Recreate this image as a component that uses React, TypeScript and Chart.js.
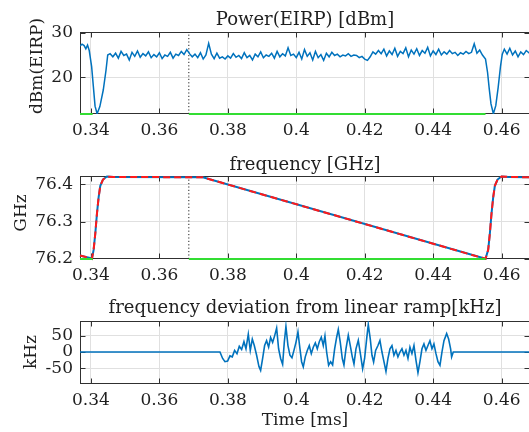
import React, { useEffect, useRef } from "react";
import { Chart, registerables } from "chart.js";

Chart.register(...registerables);

// ---------- shared axis ----------
const X_MIN = 0.3368;
const X_MAX = 0.4683;
const X_TICKS = [0.34, 0.36, 0.38, 0.4, 0.42, 0.44, 0.46];
const X_TICK_LABELS = ["0.34", "0.36", "0.38", "0.4", "0.42", "0.44", "0.46"];
const X_LABEL = "Time [ms]";
const MARKER_T = 0.3686;

// ---------- valid (green) indicator ----------
const VALID_T = [0.3368, 0.3405, 0.3406, 0.3686, 0.4553];
const VALID_ON = [1, 1, null, 1, 1];

// ---------- power (EIRP) ----------
const POWER_T = [
  0.3368, 0.3374, 0.338, 0.3385, 0.339, 0.3395, 0.3402, 0.3407, 0.3412, 0.3418,
  0.3426, 0.3436, 0.3444, 0.3449, 0.3456,
  0.3464, 0.3472, 0.348, 0.3488, 0.3496, 0.3504, 0.3512, 0.352, 0.3528, 0.3536,
  0.3544, 0.3552, 0.356, 0.3568, 0.3576, 0.3584, 0.3592, 0.36, 0.3608, 0.3616,
  0.3624, 0.3632, 0.364, 0.3648, 0.3656, 0.3664, 0.3672, 0.368, 0.3688, 0.3696,
  0.3704, 0.3712, 0.372, 0.3728, 0.3736, 0.3744, 0.3752, 0.376, 0.3768, 0.3776,
  0.3784, 0.3792, 0.38, 0.3808, 0.3816, 0.3824, 0.3832, 0.384, 0.3848, 0.3856,
  0.3864, 0.3872, 0.388, 0.3888, 0.3896, 0.3904, 0.3912, 0.392, 0.3928, 0.3936,
  0.3944, 0.3952, 0.396, 0.3968, 0.3976, 0.3984, 0.3992, 0.4, 0.4008, 0.4016,
  0.4024, 0.4032, 0.404, 0.4048, 0.4056, 0.4064, 0.4072, 0.408, 0.4088, 0.4096,
  0.4104, 0.4112, 0.412, 0.4128, 0.4136, 0.4144, 0.4152, 0.416, 0.4168, 0.4176,
  0.4184, 0.4192, 0.42, 0.4208, 0.4216, 0.4224, 0.4232, 0.424, 0.4248, 0.4256,
  0.4264, 0.4272, 0.428, 0.4288, 0.4296, 0.4304, 0.4312, 0.432, 0.4328, 0.4336,
  0.4344, 0.4352, 0.436, 0.4368, 0.4376, 0.4384, 0.4392, 0.44, 0.4408, 0.4416,
  0.4424, 0.4432, 0.444, 0.4448, 0.4456, 0.4464, 0.4472, 0.448, 0.4488, 0.4496,
  0.4504, 0.4512, 0.452, 0.4528, 0.4536, 0.4544,
  0.4553, 0.4559, 0.4564, 0.4569, 0.4576, 0.4583, 0.459, 0.4597, 0.4602, 0.4608,
  0.4616, 0.4624, 0.4632, 0.464, 0.4648, 0.4656, 0.4664, 0.4672, 0.4683,
];
const POWER_DBM = [
  27.0, 27.4, 27.1, 26.4, 27.2, 26.0, 22.4, 18.0, 13.6, 11.9,
  13.5, 17.2, 21.6, 25.0, 25.3,
  24.6, 25.4, 24.3, 25.8, 24.9, 25.2, 23.9, 25.6, 24.7, 25.9,
  24.5, 25.3, 24.8, 25.7, 24.4, 25.1, 24.6, 25.5, 24.2, 25.0,
  24.7, 25.6, 24.3, 25.2, 24.9, 25.8, 25.1, 26.2, 25.3, 24.6,
  25.2, 24.4, 25.5, 24.1, 25.0, 27.6, 25.2, 24.2, 25.4, 24.3,
  24.6, 24.1, 24.8, 24.3, 25.3, 24.5, 24.9, 24.2, 25.5, 24.4,
  24.9, 23.9, 25.2, 24.6, 25.7, 24.4, 25.0, 24.7, 25.4, 24.3,
  25.8, 24.6, 25.3, 24.8, 26.6, 24.9, 25.2, 24.4, 25.6, 24.1,
  26.2, 24.7, 25.5, 23.9, 25.8, 24.4, 25.1, 23.8, 25.4, 24.6,
  25.6, 24.9, 25.2, 24.6, 25.0, 24.8, 25.3, 24.7, 25.0, 24.9,
  24.4, 24.7, 24.1, 23.8, 24.6, 25.7, 25.2, 26.0, 25.3, 26.3,
  24.8, 25.9, 25.1, 26.5, 24.7, 25.8, 25.3, 26.6, 24.6, 26.1,
  25.2, 26.4, 24.9, 26.0, 25.4, 26.7, 24.8, 25.9, 25.1, 26.3,
  25.0, 25.7, 25.2, 26.0, 25.3, 25.6, 24.9, 25.5, 25.2, 25.8,
  25.3, 25.6, 27.5, 25.4, 26.1, 25.0,
  24.1, 21.1, 17.4, 14.1, 11.9, 13.7, 17.8, 22.6, 25.2, 26.3,
  25.2, 26.5, 25.0, 25.9, 24.6, 25.7, 25.1, 26.0, 25.3,
];
const P_Y_MIN = 11.85;
const P_Y_MAX = 30.13;
const P_Y_TICKS = [20, 30];
const P_Y_TICK_LABELS = ["20", "30"];

// ---------- frequency ----------
const FREQ_T = [
  0.3368, 0.3385, 0.34, 0.34029, 0.34078, 0.34127, 0.34175, 0.34224, 0.34273, 0.34351,
  0.34468, 0.34662, 0.3727,
  0.4553, 0.45608, 0.45657, 0.45705, 0.45754, 0.45803, 0.45881, 0.45998, 0.46192, 0.4683,
];
const FREQ_GHZ = [
  76.209, 76.205, 76.2015, 76.2, 76.224, 76.268, 76.321, 76.365, 76.396, 76.413,
  76.421, 76.42, 76.419,
  76.2, 76.224, 76.268, 76.321, 76.365, 76.396, 76.413, 76.421, 76.42, 76.419,
];
const F_Y_MIN = 76.1995;
const F_Y_MAX = 76.4225;
const F_Y_TICKS = [76.2, 76.3, 76.4];
const F_Y_TICK_LABELS = ["76.2", "76.3", "76.4"];

// ---------- deviation ----------
const DEV_T = [
  0.3368, 0.3777, 0.37848, 0.37916, 0.37994, 0.38062, 0.3813, 0.38198, 0.38267, 0.38335,
  0.38403, 0.38471, 0.3853, 0.38598, 0.38656, 0.38715, 0.38773, 0.38841, 0.38909, 0.38958,
  0.39017, 0.39075, 0.39133, 0.39192, 0.3925, 0.39309, 0.39367, 0.39426, 0.39484, 0.39543,
  0.39601, 0.3965, 0.39698, 0.39757, 0.39815, 0.39874, 0.39932, 0.39991, 0.40049, 0.40108,
  0.40156, 0.40205, 0.40263, 0.40322, 0.4038, 0.40439, 0.40497, 0.40556, 0.40614, 0.40673,
  0.40731, 0.40789, 0.40838, 0.40887, 0.40945, 0.41004, 0.41062, 0.41121, 0.41179, 0.41228,
  0.41286, 0.41345, 0.41393, 0.41452, 0.4152, 0.41578, 0.41637, 0.41686, 0.41744, 0.41812,
  0.4188, 0.41939, 0.41997, 0.42056, 0.42104, 0.42163, 0.42212, 0.4226, 0.42319, 0.42387,
  0.42445, 0.42504, 0.42562, 0.42621, 0.42679, 0.42738, 0.42796, 0.42854, 0.42913, 0.42971,
  0.4303, 0.43088, 0.43147, 0.43205, 0.43264, 0.43322, 0.4338, 0.43439, 0.43497, 0.43556,
  0.43614, 0.43673, 0.43731, 0.4379, 0.43848, 0.43906, 0.43965, 0.44023, 0.44082, 0.4414,
  0.44199, 0.44257, 0.44316, 0.44394, 0.44452, 0.4451, 0.4454, 0.44588, 0.4683,
];
const DEV_KHZ = [
  0, 0, -20, -30, -28, -12, -15, 5, -5, 18,
  8, 32, 10, 55, 5, 40, 20, -10, -45, -57,
  -20, 20, 35, 15, 45, 30, 50, 74, 10, -20,
  -38, 30, 79, 20, -10, -18, 5, 30, 62, 10,
  -30, -46, -15, 5, 20, -5, 15, 28, 10, 32,
  46, 20, 50, 0, -41, -30, -40, 10, 45, 70,
  30, -20, -40, 10, 52, 20, -15, -37, 10, 36,
  -10, -52, -20, 40, 85, 40, -10, -31, 5, 20,
  36, 0, -30, -60, -20, 10, 20, -10, 5, -15,
  0, 10, -10, 5, -20, 15, -5, 20, -25, -64,
  -30, 10, 25, 5, 20, 35, 10, 25, -5, -30,
  -41, 0, 35, 57, 40, 10, -15, 0, 0,
];
const D_Y_MIN = -99;
const D_Y_MAX = 96;
const D_Y_TICKS = [-50, 0, 50];
const D_Y_TICK_LABELS = ["-50", "0", "50"];

// ---------- style ----------
const FONT = "'DejaVu Serif', 'Liberation Serif', serif";
const TEXT_COLOR = "#1f1f1f";
const AXIS_COLOR = "#303030";
const GRID_COLOR = "#e0e0e0";
const BLUE = "#0072BD";
const RED = "#ff1a1a";
const GREEN = "#33dd33";
const CANVAS_W = 530;
const AREA_LEFT = 80;
const TICK_LEN = 5;

type PanelCfg = {
  key: string;
  top: number;
  height: number;
  areaTop: number;
  areaBottom: number;
  title: string;
  titleY: number;
  ylabel: string;
  ylabelX: number;
  ylabelY: number;
  yMin: number;
  yMax: number;
  yTicks: number[];
  yTickLabels: string[];
  xlabel?: string;
  xlabelY?: number;
  datasets: any[];
};

const pts = (t: number[], v: (number | null)[]) => t.map((x, i) => ({ x, y: v[i] }));

const markerDataset = (yMin: number, yMax: number) => ({
  data: [
    { x: MARKER_T, y: yMin },
    { x: MARKER_T, y: yMax },
  ],
  borderColor: "#222222",
  borderWidth: 1,
  borderDash: [1.2, 2.2],
  pointRadius: 0,
  order: 3,
});

const validDataset = (level: number) => ({
  data: pts(VALID_T, VALID_ON.map((v) => (v === null ? null : level))),
  borderColor: GREEN,
  borderWidth: 2.2,
  pointRadius: 0,
  spanGaps: false,
  clip: 4,
  order: 0,
});

const PANELS: PanelCfg[] = [
  {
    key: "power",
    top: 0,
    height: 145,
    areaTop: 32,
    areaBottom: 114,
    title: "Power(EIRP) [dBm]",
    titleY: 20.5,
    ylabel: "dBm(EIRP)",
    ylabelX: 37.5,
    ylabelY: 66,
    yMin: P_Y_MIN,
    yMax: P_Y_MAX,
    yTicks: P_Y_TICKS,
    yTickLabels: P_Y_TICK_LABELS,
    datasets: [
      validDataset(P_Y_MIN),
      {
        data: pts(POWER_T, POWER_DBM),
        borderColor: BLUE,
        borderWidth: 1.5,
        pointRadius: 0,
        order: 1,
      },
      markerDataset(P_Y_MIN, P_Y_MAX),
    ],
  },
  {
    key: "freq",
    top: 145,
    height: 145,
    areaTop: 31,
    areaBottom: 114,
    title: "frequency [GHz]",
    titleY: 20,
    ylabel: "GHz",
    ylabelX: 22,
    ylabelY: 68,
    yMin: F_Y_MIN,
    yMax: F_Y_MAX,
    yTicks: F_Y_TICKS,
    yTickLabels: F_Y_TICK_LABELS,
    datasets: [
      validDataset(F_Y_MIN),
      {
        data: pts(FREQ_T, FREQ_GHZ),
        borderColor: RED,
        borderWidth: 2,
        borderDash: [7, 4],
        pointRadius: 0,
        clip: 3,
        order: 1,
      },
      {
        data: pts(FREQ_T, FREQ_GHZ),
        borderColor: BLUE,
        borderWidth: 2,
        pointRadius: 0,
        clip: 3,
        order: 2,
      },
      markerDataset(F_Y_MIN, F_Y_MAX),
    ],
  },
  {
    key: "dev",
    top: 290,
    height: 142,
    areaTop: 31,
    areaBottom: 94,
    title: "frequency deviation from linear ramp[kHz]",
    titleY: 18,
    ylabel: "kHz",
    ylabelX: 31.5,
    ylabelY: 62,
    yMin: D_Y_MIN,
    yMax: D_Y_MAX,
    yTicks: D_Y_TICKS,
    yTickLabels: D_Y_TICK_LABELS,
    xlabel: X_LABEL,
    xlabelY: 131,
    datasets: [
      {
        data: pts(DEV_T, DEV_KHZ),
        borderColor: BLUE,
        borderWidth: 1.6,
        pointRadius: 0,
        order: 1,
      },
    ],
  },
];

function framePlugin(p: PanelCfg) {
  return {
    id: "frame-" + p.key,
    beforeDatasetsDraw(chart: any) {
      const { ctx, chartArea: a, scales } = chart;
      ctx.save();
      ctx.strokeStyle = AXIS_COLOR;
      ctx.lineWidth = 1;
      const l = Math.round(a.left) + 0.5;
      const r = Math.round(a.right) - 0.5;
      const t = Math.round(a.top) + 0.5;
      const b = Math.round(a.bottom) - 0.5;
      ctx.strokeRect(l, t, r - l, b - t);
      ctx.beginPath();
      for (const tk of scales.x.ticks) {
        const px = Math.round(scales.x.getPixelForValue(tk.value)) + 0.5;
        ctx.moveTo(px, b);
        ctx.lineTo(px, b - TICK_LEN);
        ctx.moveTo(px, t);
        ctx.lineTo(px, t + TICK_LEN);
      }
      for (const tk of scales.y.ticks) {
        const py = Math.round(scales.y.getPixelForValue(tk.value)) + 0.5;
        ctx.moveTo(l, py);
        ctx.lineTo(l + TICK_LEN, py);
        ctx.moveTo(r, py);
        ctx.lineTo(r - TICK_LEN, py);
      }
      ctx.stroke();
      ctx.restore();
    },
    afterDraw(chart: any) {
      const { ctx, chartArea: a } = chart;
      ctx.save();
      ctx.fillStyle = TEXT_COLOR;
      ctx.textAlign = "center";
      ctx.textBaseline = "middle";
      ctx.font = `18px ${FONT}`;
      ctx.fillText(p.title, (a.left + a.right) / 2, p.titleY);
      if (p.xlabel) {
        ctx.font = `17px ${FONT}`;
        ctx.fillText(p.xlabel, (a.left + a.right) / 2, p.xlabelY);
      }
      ctx.translate(p.ylabelX, p.ylabelY);
      ctx.rotate(-Math.PI / 2);
      ctx.font = `17px ${FONT}`;
      ctx.fillText(p.ylabel, 0, 0);
      ctx.restore();
    },
  };
}

function buildConfig(p: PanelCfg): any {
  return {
    type: "line",
    data: { datasets: p.datasets.map((d) => ({ tension: 0, fill: false, ...d })) },
    options: {
      animation: false,
      responsive: false,
      maintainAspectRatio: false,
      events: [],
      layout: { padding: { top: p.areaTop, left: 0, right: 0, bottom: 0 } },
      plugins: {
        legend: { display: false },
        tooltip: { enabled: false },
        title: { display: false },
      },
      scales: {
        x: {
          type: "linear",
          min: X_MIN,
          max: X_MAX,
          bounds: "data",
          afterBuildTicks: (s: any) => {
            s.ticks = X_TICKS.map((v) => ({ value: v }));
          },
          afterFit: (s: any) => {
            s.height = p.height - p.areaBottom;
          },
          grid: { color: GRID_COLOR, lineWidth: 1, drawTicks: false },
          border: { display: false },
          ticks: {
            padding: 6,
            autoSkip: false,
            maxRotation: 0,
            color: TEXT_COLOR,
            font: { family: FONT, size: 17 },
            callback: (_v: any, i: number) => X_TICK_LABELS[i],
          },
        },
        y: {
          type: "linear",
          min: p.yMin,
          max: p.yMax,
          bounds: "data",
          afterBuildTicks: (s: any) => {
            s.ticks = p.yTicks.map((v) => ({ value: v }));
          },
          afterFit: (s: any) => {
            s.width = AREA_LEFT;
          },
          grid: { color: GRID_COLOR, lineWidth: 1, drawTicks: false },
          border: { display: false },
          ticks: {
            padding: 7,
            color: TEXT_COLOR,
            font: { family: FONT, size: 17 },
            callback: (_v: any, i: number) => p.yTickLabels[i],
          },
        },
      },
    },
    plugins: [framePlugin(p)],
  };
}

function Panel({ cfg }: { cfg: PanelCfg }) {
  const ref = useRef<HTMLCanvasElement>(null);
  useEffect(() => {
    if (!ref.current) return;
    const chart = new Chart(ref.current, buildConfig(cfg));
    return () => chart.destroy();
  }, [cfg]);
  return (
    <canvas
      ref={ref}
      width={CANVAS_W}
      height={cfg.height}
      style={{ position: "absolute", left: 0, top: cfg.top, width: CANVAS_W, height: cfg.height }}
    />
  );
}

export default function App() {
  return (
    <div
      style={{
        position: "fixed",
        left: 0,
        top: 0,
        width: 529,
        height: 432,
        overflow: "hidden",
        background: "#ffffff",
      }}
    >
      {PANELS.map((p) => (
        <Panel key={p.key} cfg={p} />
      ))}
    </div>
  );
}
